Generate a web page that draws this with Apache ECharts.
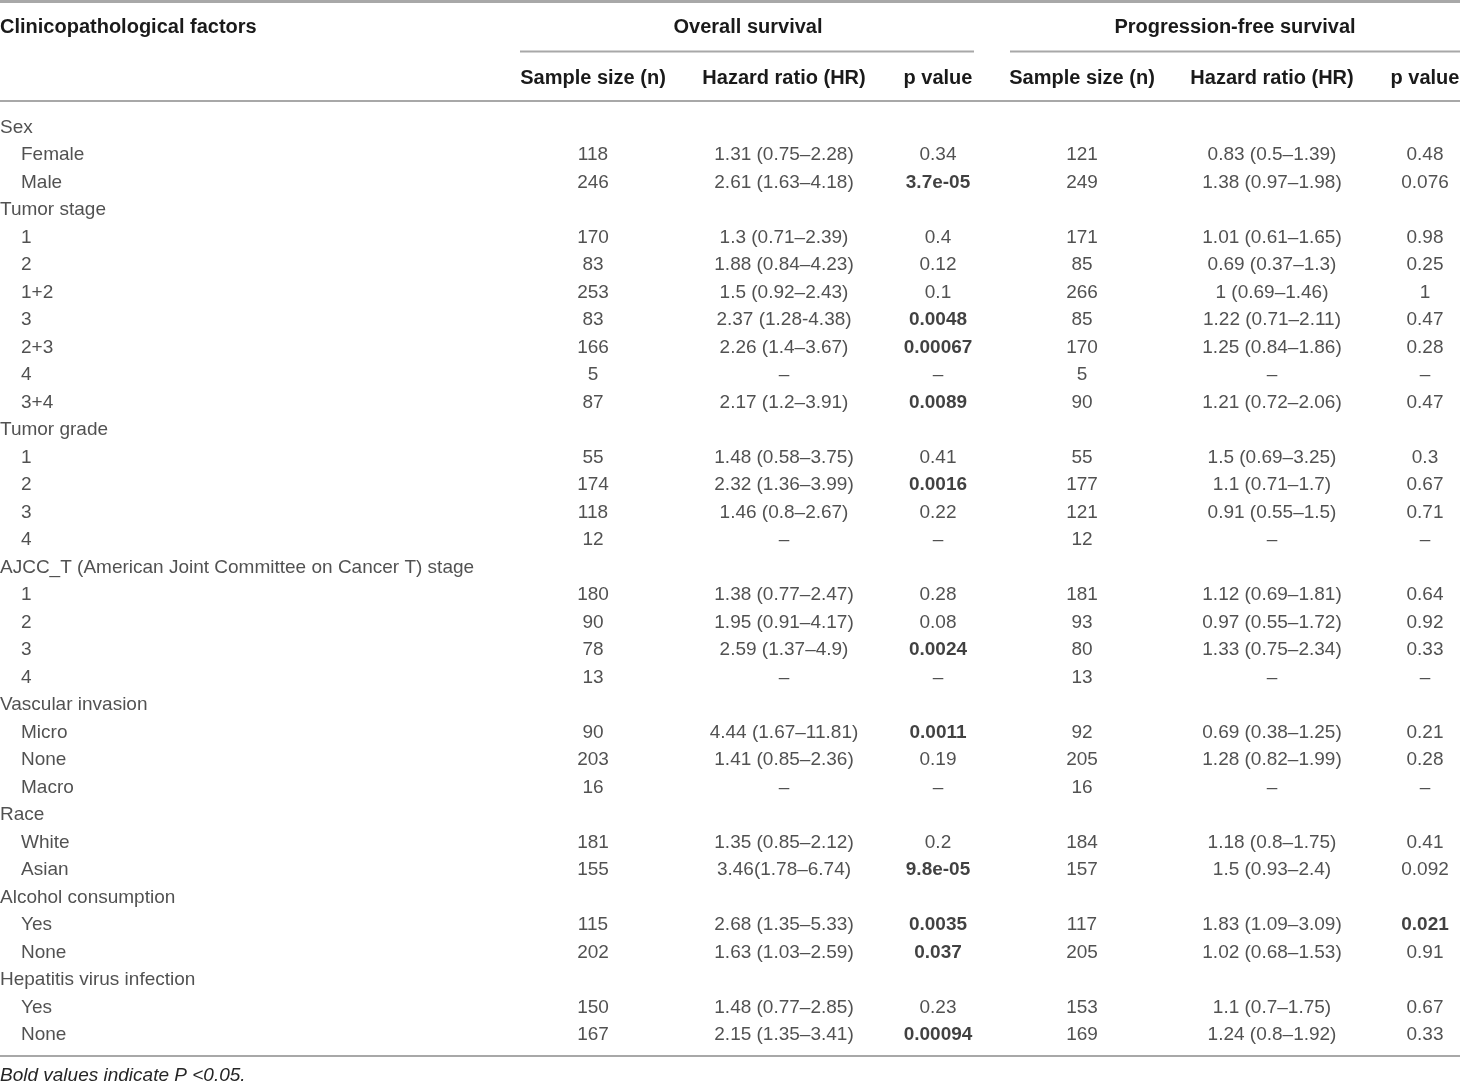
<!DOCTYPE html>
<html>
<head>
<meta charset="utf-8">
<script src="https://cdn.jsdelivr.net/npm/echarts@6/dist/echarts.min.js"></script>
<style>
html,body{margin:0;padding:0;background:#fff;}
#main{width:1460px;height:1084px;}
</style>
</head>
<body>
<div id="main"></div>
<script>
// ---------------- DATA ----------------
const groups = [
  "Sex",
  "Tumor stage",
  "Tumor grade",
  "AJCC_T (American Joint Committee on Cancer T) stage",
  "Vascular invasion",
  "Race",
  "Alcohol consumption",
  "Hepatitis virus infection"
];
const groupItems = [
  ["Female", "Male"],
  ["1", "2", "1+2", "3", "2+3", "4", "3+4"],
  ["1", "2", "3", "4"],
  ["1", "2", "3", "4"],
  ["Micro", "None", "Macro"],
  ["White", "Asian"],
  ["Yes", "None"],
  ["Yes", "None"]
];
const osN = ["118","246","170","83","253","83","166","5","87","55","174","118","12","180","90","78","13","90","203","16","181","155","115","202","150","167"];
const osHR = ["1.31 (0.75–2.28)","2.61 (1.63–4.18)","1.3 (0.71–2.39)","1.88 (0.84–4.23)","1.5 (0.92–2.43)","2.37 (1.28-4.38)","2.26 (1.4–3.67)","–","2.17 (1.2–3.91)","1.48 (0.58–3.75)","2.32 (1.36–3.99)","1.46 (0.8–2.67)","–","1.38 (0.77–2.47)","1.95 (0.91–4.17)","2.59 (1.37–4.9)","–","4.44 (1.67–11.81)","1.41 (0.85–2.36)","–","1.35 (0.85–2.12)","3.46(1.78–6.74)","2.68 (1.35–5.33)","1.63 (1.03–2.59)","1.48 (0.77–2.85)","2.15 (1.35–3.41)"];
const osP = ["0.34","3.7e-05","0.4","0.12","0.1","0.0048","0.00067","–","0.0089","0.41","0.0016","0.22","–","0.28","0.08","0.0024","–","0.0011","0.19","–","0.2","9.8e-05","0.0035","0.037","0.23","0.00094"];
const pfsN = ["121","249","171","85","266","85","170","5","90","55","177","121","12","181","93","80","13","92","205","16","184","157","117","205","153","169"];
const pfsHR = ["0.83 (0.5–1.39)","1.38 (0.97–1.98)","1.01 (0.61–1.65)","0.69 (0.37–1.3)","1 (0.69–1.46)","1.22 (0.71–2.11)","1.25 (0.84–1.86)","–","1.21 (0.72–2.06)","1.5 (0.69–3.25)","1.1 (0.71–1.7)","0.91 (0.55–1.5)","–","1.12 (0.69–1.81)","0.97 (0.55–1.72)","1.33 (0.75–2.34)","–","0.69 (0.38–1.25)","1.28 (0.82–1.99)","–","1.18 (0.8–1.75)","1.5 (0.93–2.4)","1.83 (1.09–3.09)","1.02 (0.68–1.53)","1.1 (0.7–1.75)","1.24 (0.8–1.92)"];
const pfsP = ["0.48","0.076","0.98","0.25","1","0.47","0.28","–","0.47","0.3","0.67","0.71","–","0.64","0.92","0.33","–","0.21","0.28","–","0.41","0.092","0.021","0.91","0.67","0.33"];
const headerMain = "Clinicopathological factors";
const headerOS = "Overall survival";
const headerPFS = "Progression-free survival";
const subHeaders = ["Sample size (n)", "Hazard ratio (HR)", "p value"];
const footnote = "Bold values indicate P <0.05.";

// ---------------- LAYOUT ----------------
const FONT = "'Liberation Sans', Arial, Helvetica, sans-serif";
const TXT = "#262626";
const LINE = "#a8a8a8";
const colX = { group: 0, item: 21, osN: 593, osHR: 784, osP: 938, pfsN: 1082, pfsHR: 1272, pfsP: 1425 };

// Build row list
const rows = [];
let k = 0;
groups.forEach((g, gi) => {
  rows.push({ label: g, type: "group" });
  groupItems[gi].forEach(it => { rows.push({ label: it, type: "item", idx: k++ }); });
});
const rowCats = rows.map((r, i) => String(i));

const groupData = [], itemData = [];
const cols = { osN: [], osHR: [], osP: [], pfsN: [], pfsHR: [], pfsP: [] };
const src = { osN, osHR, osP, pfsN, pfsHR, pfsP };
const isSig = s => { const v = parseFloat(s); return !isNaN(v) && v < 0.05; };
rows.forEach((r, i) => {
  if (r.type === "group") { groupData.push([colX.group, i, r.label]); return; }
  itemData.push([colX.item, i, r.label]);
  Object.keys(cols).forEach(c => {
    const t = src[c][r.idx];
    const d = { value: [colX[c], i, t] };
    if ((c === "osP" || c === "pfsP") && isSig(t)) d.label = { fontWeight: "bold", color: "#111" };
    cols[c].push(d);
  });
});

function textSeries(name, data, align) {
  return {
    name, type: "scatter", data, symbolSize: 1, silent: true,
    itemStyle: { color: "rgba(0,0,0,0)" },
    label: {
      show: true, position: "inside", align: align, verticalAlign: "middle",
      fontFamily: FONT, fontSize: 19, color: TXT,
      formatter: p => p.value[2]
    },
    emphasis: { disabled: true }
  };
}

const series = [
  textSeries("group", groupData, "left"),
  textSeries("item", itemData, "left")
];
Object.keys(cols).forEach(c => series.push(textSeries(c, cols[c], "center")));

const hdrStyle = (text, x, y, align) => ({
  type: "text", x, y,
  style: { text, fontFamily: FONT, fontSize: 20, fontWeight: "bold", fill: "#1a1a1a", align, verticalAlign: "middle" }
});
const hline = (x1, x2, y, w) => ({
  type: "line", shape: { x1, y1: y, x2, y2: y }, style: { stroke: LINE, lineWidth: w }
});

const chart = echarts.init(document.getElementById("main"), null, { renderer: "canvas" });
chart.setOption({
  animation: false,
  backgroundColor: "#fff",
  grid: { left: 0, right: 0, top: 114, height: 935, containLabel: false },
  xAxis: { type: "value", min: 0, max: 1460, show: false },
  yAxis: { type: "category", data: rowCats, inverse: true, show: false },
  series,
  graphic: [
    hline(0, 1460, 1.5, 3),
    hdrStyle(headerMain, 0, 27, "left"),
    hdrStyle(headerOS, 748, 27, "center"),
    hdrStyle(headerPFS, 1235, 27, "center"),
    hline(520, 974, 51.5, 2),
    hline(1010, 1460, 51.5, 2),
    hdrStyle(subHeaders[0], colX.osN, 78, "center"),
    hdrStyle(subHeaders[1], colX.osHR, 78, "center"),
    hdrStyle(subHeaders[2], colX.osP, 78, "center"),
    hdrStyle(subHeaders[0], colX.pfsN, 78, "center"),
    hdrStyle(subHeaders[1], colX.pfsHR, 78, "center"),
    hdrStyle(subHeaders[2], colX.pfsP, 78, "center"),
    hline(0, 1460, 101, 2),
    hline(0, 1460, 1056, 2),
    { type: "text", x: 0, y: 1076,
      style: { text: footnote, fontFamily: FONT, fontSize: 19, fontStyle: "italic", fill: TXT, align: "left", verticalAlign: "middle" } }
  ]
});
</script>
</body>
</html>
